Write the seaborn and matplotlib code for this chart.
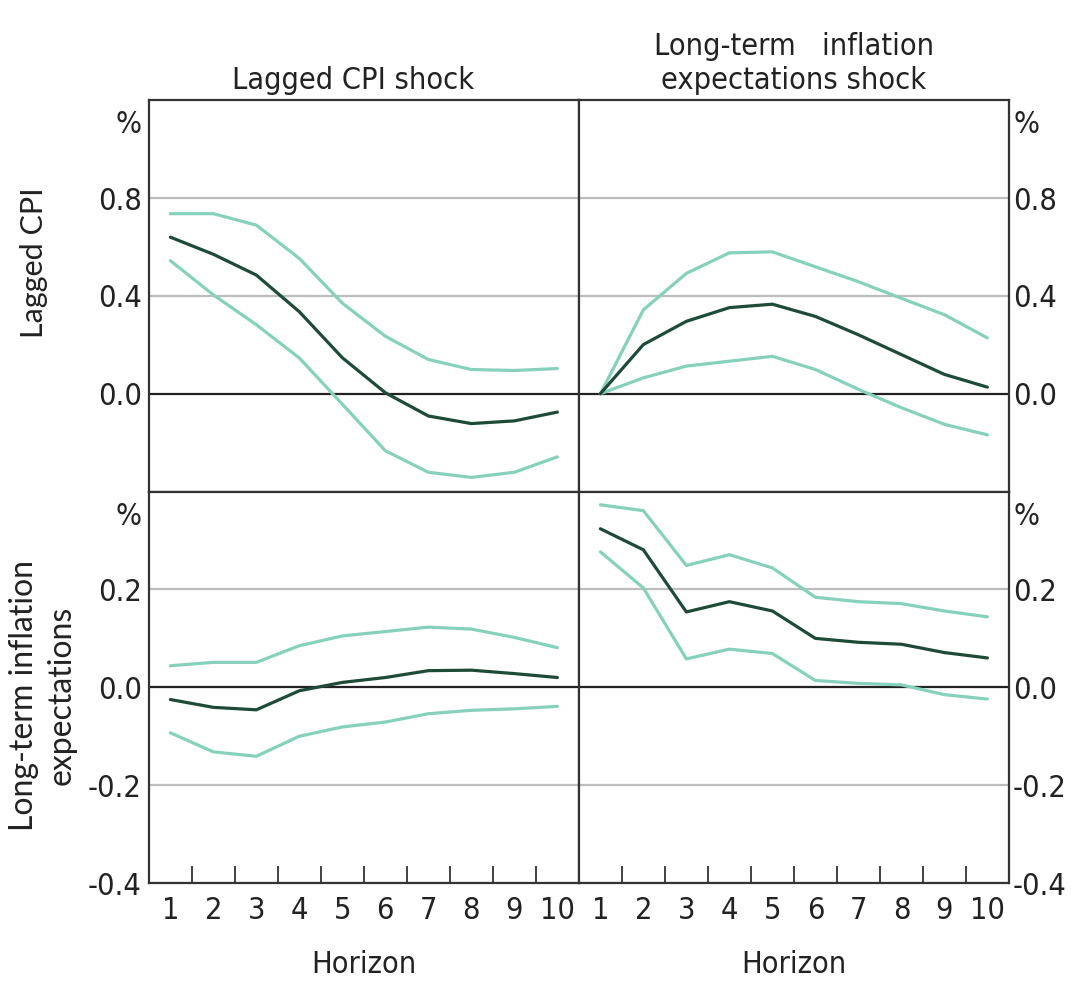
import numpy as np
import pandas as pd
import matplotlib
matplotlib.use("Agg")
import matplotlib.pyplot as plt
from matplotlib.transforms import blended_transform_factory
import seaborn as sns

# ---------------- data ----------------
horizon = [1, 2, 3, 4, 5, 6, 7, 8, 9, 10]

# Row 1 (Lagged CPI response)
cpi_cpi_mid = [0.64, 0.57, 0.485, 0.335, 0.147, 0.004, -0.091, -0.122, -0.111, -0.075]
cpi_cpi_up = [0.736, 0.736, 0.689, 0.553, 0.370, 0.235, 0.140, 0.099, 0.095, 0.103]
cpi_cpi_lo = [0.544, 0.404, 0.282, 0.146, -0.043, -0.233, -0.321, -0.342, -0.321, -0.258]

lte_cpi_mid = [0.0, 0.201, 0.296, 0.352, 0.366, 0.316, 0.241, 0.160, 0.079, 0.027]
lte_cpi_up = [0.0, 0.343, 0.492, 0.576, 0.580, 0.519, 0.458, 0.390, 0.323, 0.228]
lte_cpi_lo = [0.0, 0.065, 0.113, 0.133, 0.153, 0.099, 0.018, -0.057, -0.125, -0.168]

# Row 2 (Long-term inflation expectations response)
cpi_lte_mid = [-0.025, -0.041, -0.046, -0.007, 0.010, 0.020, 0.034, 0.035, 0.028, 0.020]
cpi_lte_up = [0.044, 0.051, 0.051, 0.085, 0.105, 0.114, 0.123, 0.119, 0.102, 0.081]
cpi_lte_lo = [-0.093, -0.132, -0.141, -0.100, -0.081, -0.071, -0.054, -0.047, -0.044, -0.039]

lte_lte_mid = [0.324, 0.281, 0.154, 0.175, 0.156, 0.100, 0.092, 0.088, 0.071, 0.060]
lte_lte_up = [0.373, 0.361, 0.249, 0.271, 0.244, 0.184, 0.175, 0.171, 0.156, 0.144]
lte_lte_lo = [0.277, 0.203, 0.058, 0.078, 0.069, 0.014, 0.008, 0.005, -0.015, -0.024]

col_titles = ["Lagged CPI shock", "Long-term   inflation\nexpectations shock"]
row_titles = ["Lagged CPI", "Long-term inflation\nexpectations"]
top_ticks = [0.0, 0.4, 0.8]
top_ticklabels = ["0.0", "0.4", "0.8"]
bot_ticks = [-0.4, -0.2, 0.0, 0.2]
bot_ticklabels = ["-0.4", "-0.2", "0.0", "0.2"]
x_label = "Horizon"

panels = {
    (0, 0): (cpi_cpi_lo, cpi_cpi_mid, cpi_cpi_up),
    (0, 1): (lte_cpi_lo, lte_cpi_mid, lte_cpi_up),
    (1, 0): (cpi_lte_lo, cpi_lte_mid, cpi_lte_up),
    (1, 1): (lte_lte_lo, lte_lte_mid, lte_lte_up),
}

# ---------------- style ----------------
sns.set_style("white")
plt.rcParams["font.family"] = ["DejaVu Sans"]
plt.rcParams["font.stretch"] = "condensed"
plt.rcParams["axes.unicode_minus"] = False

LIGHT = "#86d1bc"
DARK = "#1e4a38"
SPINE = "#333333"
GRID = "#bdbdbd"
TXT = "#222222"
TICKFS = 22

fig = plt.figure(figsize=(10.71, 9.82), dpi=100)
L, R, B, T = 0.139, 0.942, 0.1008, 0.898
W = (R - L) / 2
H = (T - B) / 2

for (r, c), (lo, mid, up) in panels.items():
    ax = fig.add_axes([L + c * W, T - (r + 1) * H, W, H])
    df = pd.DataFrame({"h": horizon * 3,
                       "v": lo + mid + up,
                       "s": ["lo"] * 10 + ["mid"] * 10 + ["up"] * 10})
    ticks = top_ticks if r == 0 else bot_ticks
    for t in ticks:
        if t != 0.0:
            ax.axhline(t, color=GRID, lw=1.6, zorder=0)
    ax.axhline(0.0, color=TXT, lw=1.6, zorder=1)
    sns.lineplot(data=df, x="h", y="v", hue="s",
                 palette={"lo": LIGHT, "up": LIGHT, "mid": DARK},
                 hue_order=["lo", "up", "mid"],
                 estimator=None, lw=2.3, legend=False, ax=ax, zorder=3)
    ax.set_xlim(0.5, 10.5)
    if r == 0:
        ax.set_ylim(-0.4, 1.2)
        ax.set_yticks(top_ticks)
        ax.set_yticklabels(top_ticklabels)
        pct_y = 1.1
    else:
        ax.set_ylim(-0.4, 0.4)
        ax.set_yticks(bot_ticks)
        ax.set_yticklabels(bot_ticklabels)
        pct_y = 0.35
    ax.set_xlabel("")
    ax.set_ylabel("")
    for s in ax.spines.values():
        s.set_visible(True)
        s.set_color(SPINE)
        s.set_linewidth(1.6)
    ax.tick_params(axis="y", length=0, labelsize=TICKFS, colors=TXT)
    tr = blended_transform_factory(ax.transAxes, ax.transData)
    if c == 0:
        ax.tick_params(axis="y", left=False, right=False, labelleft=True,
                       labelright=False, pad=5)
        ax.text(-0.016, pct_y, "%", transform=tr, ha="right", va="center",
                fontsize=TICKFS, color=TXT)
    else:
        ax.tick_params(axis="y", left=False, right=False, labelleft=False,
                       labelright=True, pad=3)
        ax.text(1.01, pct_y, "%", transform=tr, ha="left", va="center",
                fontsize=TICKFS, color=TXT)
    ax.set_xticks(horizon)
    ax.set_xticks([h + 0.5 for h in horizon[:-1]], minor=True)
    if r == 1:
        ax.set_xticklabels([str(h) for h in horizon])
        ax.tick_params(axis="x", which="major", length=0, labelsize=TICKFS,
                       pad=9, colors=TXT)
        ax.tick_params(axis="x", which="minor", direction="in", length=12,
                       width=1.3, color=SPINE, bottom=True)
        ax.set_xlabel(x_label, fontsize=TICKFS, labelpad=18, color=TXT)
    else:
        ax.tick_params(axis="x", which="both", length=0, labelbottom=False,
                       bottom=False)

# column titles
for c, title in enumerate(col_titles):
    fig.text(L + (c + 0.5) * W - (0.01 if c == 0 else 0.0), 0.903, title,
             ha="center", va="bottom", fontsize=TICKFS, color=TXT,
             linespacing=1.25)

# row titles
fig.text(0.032, 0.733, row_titles[0], rotation=90, ha="center", va="center",
         fontsize=22, family=["Lato", "DejaVu Sans"], stretch="normal",
         color=TXT)
fig.text(0.040, 0.292, row_titles[1], rotation=90, ha="center", va="center",
         fontsize=23, family=["Lato", "DejaVu Sans"], stretch="normal",
         color=TXT, linespacing=1.3, multialignment="center")

fig.savefig("out.png", dpi=100)
